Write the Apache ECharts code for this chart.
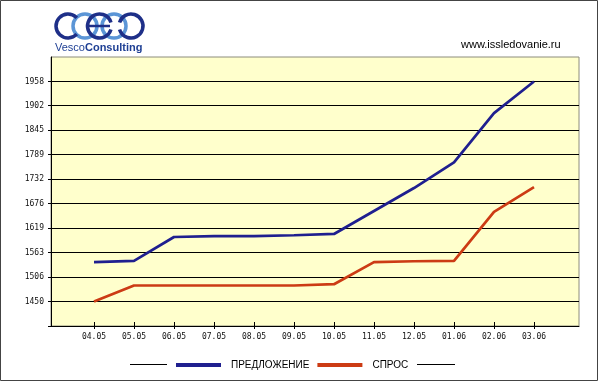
<!DOCTYPE html>
<html>
<head>
<meta charset="utf-8">
<script src="https://cdn.jsdelivr.net/npm/echarts@6/dist/echarts.min.js"></script>
<style>
html,body{margin:0;padding:0;background:#fff;}
#chart{width:600px;height:383px;}
</style>
</head>
<body>
<div id="chart"></div>
<script>
const categories = ['04.05','05.05','06.05','07.05','08.05','09.05','10.05','11.05','12.05','01.06','02.06','03.06'];
const supplyName = 'ПРЕДЛОЖЕНИЕ';
const demandName = 'СПРОС';
const supply = [1541, 1544, 1599, 1601, 1601, 1603, 1606, 1659, 1712, 1771, 1885, 1958];
const demand = [1450, 1487, 1487, 1487, 1487, 1487, 1490, 1541, 1543, 1544, 1657, 1714];
const yTickLabels = [1450, 1506, 1563, 1619, 1676, 1732, 1789, 1845, 1902, 1958];
const yMin = 1393.56;
const yMax = 2014.44;

const chart = echarts.init(document.getElementById('chart'), null, {renderer: 'canvas'});
const mono = 'DejaVu Sans Mono';
const sans = 'Liberation Sans';
const tickVals = [yMin].concat(yTickLabels);

const option = {
  animation: false,
  backgroundColor: '#ffffff',
  grid: [
    {left: 51, right: 21, top: 57, bottom: 57, show: true, backgroundColor: '#ffffcc', borderColor: '#8c8c7c', borderWidth: 1},
    {left: 94, right: 66, top: 57, bottom: 57},
    {left: 51, right: 21, top: 57, bottom: 57},
    {left: 94, right: 66, top: 57, bottom: 57}
  ],
  xAxis: [
    {gridIndex: 0, type: 'value', min: 0, max: 1,
     axisLine: {show: true, onZero: false, lineStyle: {color: '#000', width: 1}},
     axisTick: {show: false}, axisLabel: {show: false}, splitLine: {show: false}},
    {gridIndex: 1, type: 'category', data: categories, boundaryGap: false,
     axisLine: {show: false, onZero: false},
     axisTick: {show: true, length: 3, lineStyle: {color: '#000'}},
     axisLabel: {show: true, margin: 7, fontFamily: mono, fontSize: 8, color: '#111'},
     splitLine: {show: false}},
    {gridIndex: 2, type: 'value', min: 0, max: 1, show: false},
    {gridIndex: 3, type: 'category', data: categories, boundaryGap: false,
     axisLine: {show: false, onZero: false},
     axisTick: {show: true, inside: true, length: 4, lineStyle: {color: '#000'}},
     axisLabel: {show: false}, splitLine: {show: false}}
  ],
  yAxis: [
    {gridIndex: 0, type: 'value', min: yMin, max: yMax,
     axisLine: {show: true, onZero: false, lineStyle: {color: '#000', width: 1}},
     axisTick: {show: true, length: 3, customValues: tickVals, lineStyle: {color: '#000'}},
     axisLabel: {show: true, customValues: yTickLabels, margin: 7, fontFamily: mono, fontSize: 8, color: '#111',
                 formatter: function (v) { return String(Math.round(v)); }},
     splitLine: {show: true, lineStyle: {color: '#000', width: 1}}},
    {gridIndex: 1, type: 'value', min: yMin, max: yMax, show: false},
    {gridIndex: 2, type: 'value', min: yMin, max: yMax,
     axisLine: {show: false, onZero: false},
     axisTick: {show: true, inside: true, length: 3, customValues: tickVals, lineStyle: {color: '#000'}},
     axisLabel: {show: false}, splitLine: {show: false}},
    {gridIndex: 3, type: 'value', min: yMin, max: yMax, show: false}
  ],
  legend: {
    left: 176, top: 360, padding: 0,
    itemWidth: 45, itemHeight: 4, itemGap: 8,
    data: [{name: supplyName, icon: 'rect'}, {name: demandName, icon: 'rect'}],
    textStyle: {fontFamily: sans, fontSize: 10, color: '#000', padding: [0, 0, 0, 5]}
  },
  series: [
    {name: supplyName, type: 'line', xAxisIndex: 1, yAxisIndex: 1, data: supply,
     showSymbol: false, symbol: 'none', color: '#1f1f8f',
     lineStyle: {width: 2.7, color: '#1f1f8f'}},
    {name: demandName, type: 'line', xAxisIndex: 1, yAxisIndex: 1, data: demand,
     showSymbol: false, symbol: 'none', color: '#cc3b14',
     lineStyle: {width: 2.7, color: '#cc3b14'}}
  ],
  graphic: [
    {type: 'rect', shape: {x: 0.5, y: 0.5, width: 597, height: 380}, style: {fill: 'none', stroke: '#444', lineWidth: 1}, silent: true},
    {type: 'line', shape: {x1: 130, y1: 364.5, x2: 167, y2: 364.5}, style: {stroke: '#000', lineWidth: 1}},
    {type: 'line', shape: {x1: 417, y1: 364.5, x2: 455, y2: 364.5}, style: {stroke: '#000', lineWidth: 1}},
    {type: 'text', left: 461, top: 39, style: {text: 'www.issledovanie.ru', font: '11px "Liberation Sans"', fill: '#000'}},
    // logo rings
    {type: 'arc', shape: {cx: 85, cy: 26, r: 12, startAngle: 0, endAngle: Math.PI * 2}, style: {stroke: '#5b95d6', lineWidth: 3.5, fill: 'none'}},
    {type: 'arc', shape: {cx: 114, cy: 26, r: 12, startAngle: 0, endAngle: Math.PI * 2}, style: {stroke: '#5b95d6', lineWidth: 3.5, fill: 'none'}},
    {type: 'arc', shape: {cx: 68, cy: 26, r: 12, startAngle: 0.75, endAngle: Math.PI * 2 - 0.75}, style: {stroke: '#1e2f88', lineWidth: 3.5, fill: 'none'}},
    {type: 'arc', shape: {cx: 99.5, cy: 26, r: 12, startAngle: 0.3, endAngle: Math.PI * 2 - 0.3}, style: {stroke: '#1e2f88', lineWidth: 3.5, fill: 'none'}},
    {type: 'line', shape: {x1: 89, y1: 26, x2: 110, y2: 26}, style: {stroke: '#1e2f88', lineWidth: 2.5}},
    {type: 'arc', shape: {cx: 131, cy: 26, r: 12, startAngle: Math.PI + 0.3, endAngle: Math.PI * 3 - 0.3}, style: {stroke: '#1e2f88', lineWidth: 3.5, fill: 'none'}},
    {type: 'text', left: 55, top: 42, style: {
      text: '{a|Vesco}{b|Consulting}',
      rich: {
        a: {fontFamily: sans, fontSize: 11, fill: '#1e3f94', fontWeight: 'normal'},
        b: {fontFamily: sans, fontSize: 11, fill: '#1e3f94', fontWeight: 'bold'}
      }
    }}
  ]
};
chart.setOption(option);
</script>
</body>
</html>
